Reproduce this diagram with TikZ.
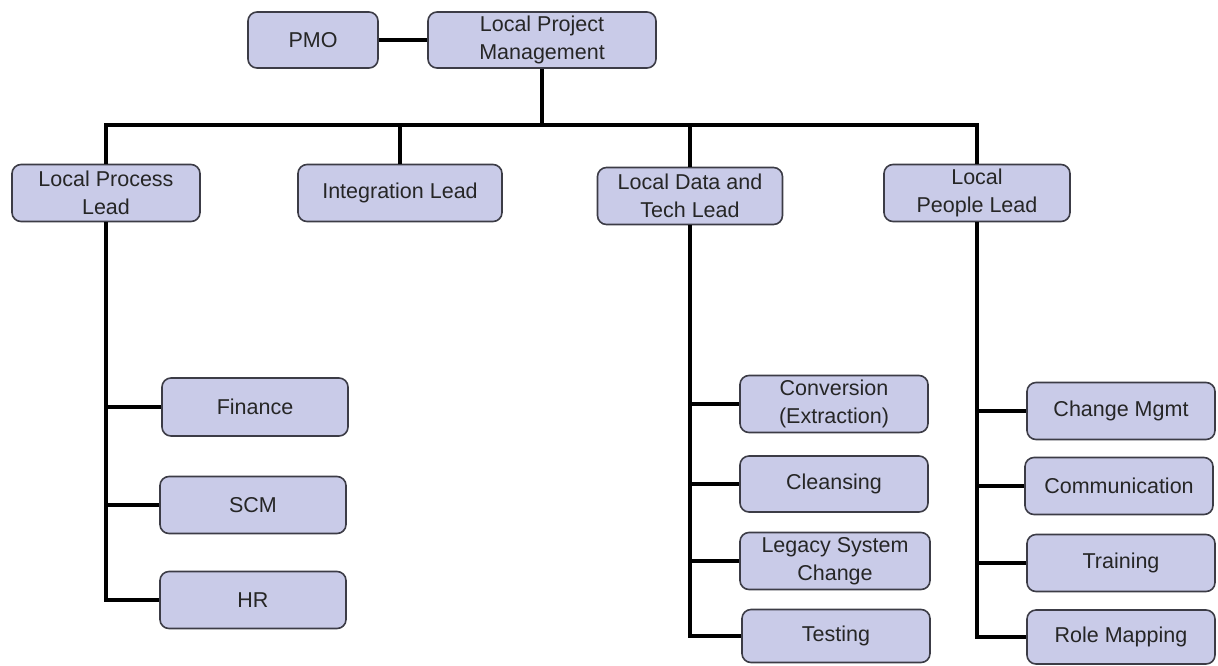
\documentclass[tikz,border=0pt]{standalone}
\usepackage{fontspec}
\setmainfont{Liberation Sans}
\definecolor{boxfill}{RGB}{201,203,232}
\definecolor{boxline}{RGB}{60,60,70}
\begin{document}
\begin{tikzpicture}[x=1pt,y=-1pt,
  box/.style={draw=boxline, line width=1.6pt, fill=boxfill, rounded corners=9pt,
    align=center, inner sep=0pt, minimum height=57pt, minimum width=188pt,
    font=\fontsize{21.5}{27.5}\selectfont, text=black!85},
  conn/.style={line width=4pt, black, line join=miter}]
\useasboundingbox (0,0) rectangle (1218,665);
\coordinate (bus) at (0,125);
% top
\node[box, minimum width=130pt, minimum height=56pt] (pmo) at (313,40) {PMO};
\node[box, minimum width=228pt, minimum height=56pt] (lpm) at (542,40) {Local Project\\Management};
% leads
\node[box] (lpl) at (106,193) {Local Process\\Lead};
\node[box, minimum width=204pt] (int) at (400,193) {Integration Lead};
\node[box, minimum width=185pt] (dtl) at (690,196) {Local Data and\\Tech Lead};
\node[box, minimum width=186pt] (ppl) at (977,193) {Local\\People Lead};
% process
\node[box, minimum width=186pt, minimum height=58pt] (fin) at (255,407) {Finance};
\node[box, minimum width=186pt] (scm) at (253,505) {SCM};
\node[box, minimum width=186pt] (hr) at (253,600) {HR};
% data
\node[box] (conv) at (834,404) {Conversion\\(Extraction)};
\node[box, minimum height=56pt] (clean) at (834,484) {Cleansing};
\node[box, minimum width=190pt] (legacy) at (835,561) {Legacy System\\Change};
\node[box, minimum height=53pt] (test) at (836,636) {Testing};
% people
\node[box] (chg) at (1121,411) {Change Mgmt};
\node[box] (comm) at (1119,486) {Communication};
\node[box] (train) at (1121,563) {Training};
\node[box, minimum height=54pt] (role) at (1121,637) {Role Mapping};
% connectors
\draw[conn] (pmo) -- (lpm);
\draw[conn] (lpm.south) -- (lpm.south |- bus);
\draw[conn] (lpl.north) -- (lpl.north |- bus) -- (ppl.north |- bus) -- (ppl.north);
\draw[conn] (int.north) -- (int.north |- bus);
\draw[conn] (dtl.north) -- (dtl.north |- bus);
\draw[conn] (lpl.south) |- (hr.west);
\draw[conn] (fin.west) -- (fin.west -| lpl.south);
\draw[conn] (scm.west) -- (scm.west -| lpl.south);
\draw[conn] (dtl.south) |- (test.west);
\draw[conn] (conv.west) -- (conv.west -| dtl.south);
\draw[conn] (clean.west) -- (clean.west -| dtl.south);
\draw[conn] (legacy.west) -- (legacy.west -| dtl.south);
\draw[conn] (ppl.south) |- (role.west);
\draw[conn] (chg.west) -- (chg.west -| ppl.south);
\draw[conn] (comm.west) -- (comm.west -| ppl.south);
\draw[conn] (train.west) -- (train.west -| ppl.south);
\end{tikzpicture}
\end{document}
